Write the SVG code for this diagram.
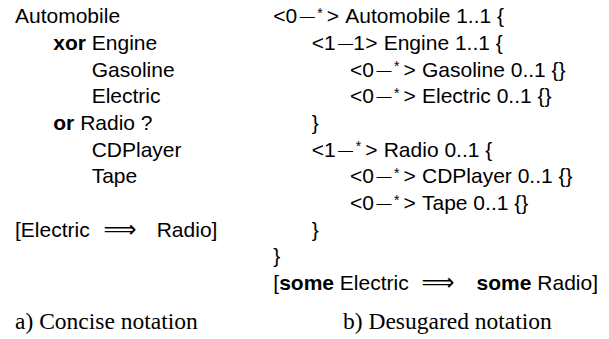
<svg xmlns="http://www.w3.org/2000/svg" width="609" height="339" viewBox="0 0 609 339">
<style>
  text { font-family: "Liberation Sans", Arial, sans-serif; font-size: 21px; fill: #000; }
  .b { font-weight: bold; }
  .dash { font-size: 15px; }
  .sup { font-size: 14px; }
  .arr { font-family: "DejaVu Sans", sans-serif; font-size: 23px; }
  .cap { font-family: "Liberation Serif", "Times New Roman", serif; font-size: 23.5px; }
</style>
<rect width="609" height="339" fill="#fff"/>
<g id="concise">
  <g id="c-automobile"><text x="15" y="23.3">Automobile</text></g>
  <g id="c-engine"><text x="53.3" y="50"><tspan class="b">xor</tspan> Engine</text></g>
  <g id="c-gasoline"><text x="91.7" y="76.7">Gasoline</text></g>
  <g id="c-electric"><text x="91.7" y="103.3">Electric</text></g>
  <g id="c-radio"><text x="53.3" y="130"><tspan class="b">or</tspan> Radio ?</text></g>
  <g id="c-cdplayer"><text x="91.7" y="156.7">CDPlayer</text></g>
  <g id="c-tape"><text x="91.7" y="183.3">Tape</text></g>
  <g id="c-constraint">
    <text x="15" y="236.7">[Electric</text>
    <text class="arr" x="120" y="236.7" text-anchor="middle">⟹</text>
    <text x="156.7" y="236.7">Radio]</text>
  </g>
</g>
<g id="desugared">
  <g id="d-automobile"><text y="23.3"><tspan x="273.3">&lt;</tspan><tspan x="285.6">0</tspan><tspan class="dash" x="299.7" y="21.3">—</tspan><tspan class="sup" x="317.3" y="18">*</tspan><tspan x="326.8" y="23.3">&gt;</tspan><tspan x="345.3">Automobile 1..1 {</tspan></text></g>
  <g id="d-engine"><text y="50"><tspan x="311.7">&lt;</tspan><tspan x="324">1</tspan><tspan class="dash" x="338.1" y="48">—</tspan><tspan x="353.2" y="50">1</tspan><tspan x="365.3">&gt;</tspan><tspan x="383.7">Engine 1..1 {</tspan></text></g>
  <g id="d-gasoline"><text y="76.7"><tspan x="350">&lt;</tspan><tspan x="362.3">0</tspan><tspan class="dash" x="376.4" y="74.7">—</tspan><tspan class="sup" x="394" y="71.4">*</tspan><tspan x="403.5" y="76.7">&gt;</tspan><tspan x="422">Gasoline 0..1 {}</tspan></text></g>
  <g id="d-electric"><text y="103.3"><tspan x="350">&lt;</tspan><tspan x="362.3">0</tspan><tspan class="dash" x="376.4" y="101.3">—</tspan><tspan class="sup" x="394" y="98">*</tspan><tspan x="403.5" y="103.3">&gt;</tspan><tspan x="422">Electric 0..1 {}</tspan></text></g>
  <g id="d-engine-close"><text x="311.7" y="130">}</text></g>
  <g id="d-radio"><text y="156.7"><tspan x="311.7">&lt;</tspan><tspan x="324">1</tspan><tspan class="dash" x="338.1" y="154.7">—</tspan><tspan class="sup" x="355.7" y="151.4">*</tspan><tspan x="365.3" y="156.7">&gt;</tspan><tspan x="383.7">Radio 0..1 {</tspan></text></g>
  <g id="d-cdplayer"><text y="183.3"><tspan x="350">&lt;</tspan><tspan x="362.3">0</tspan><tspan class="dash" x="376.4" y="181.3">—</tspan><tspan class="sup" x="394" y="178">*</tspan><tspan x="403.5" y="183.3">&gt;</tspan><tspan x="422">CDPlayer 0..1 {}</tspan></text></g>
  <g id="d-tape"><text y="210"><tspan x="350">&lt;</tspan><tspan x="362.3">0</tspan><tspan class="dash" x="376.4" y="208">—</tspan><tspan class="sup" x="394" y="204.7">*</tspan><tspan x="403.5" y="210">&gt;</tspan><tspan x="422">Tape 0..1 {}</tspan></text></g>
  <g id="d-radio-close"><text x="311.7" y="236.7">}</text></g>
  <g id="d-automobile-close"><text x="273.3" y="263.3">}</text></g>
  <g id="d-constraint">
    <text x="273.3" y="290">[<tspan class="b">some</tspan> Electric</text>
    <text class="arr" x="438" y="290" text-anchor="middle">⟹</text>
    <text x="476.6" y="290"><tspan class="b">some</tspan> Radio]</text>
  </g>
</g>
<g id="captions">
  <text class="cap" x="15" y="329">a) Concise notation</text>
  <text class="cap" x="343" y="329">b) Desugared notation</text>
</g>
<g id="connectors"></g>
</svg>
